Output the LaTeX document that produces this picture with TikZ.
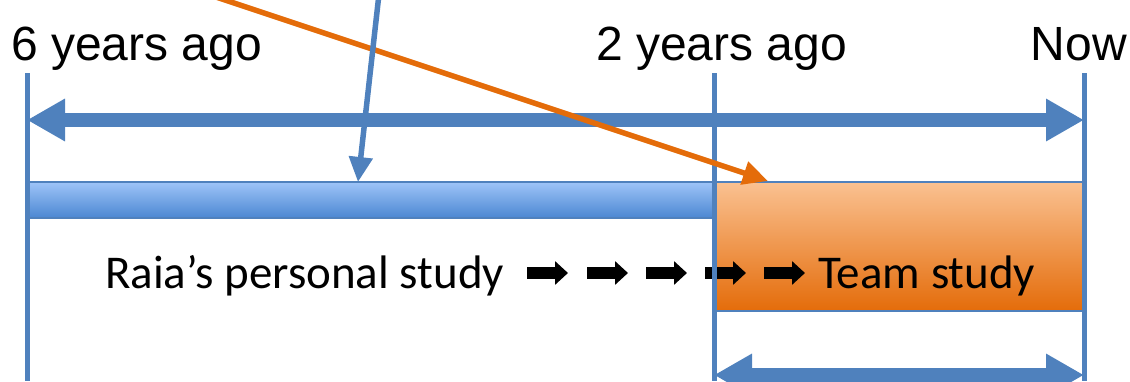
\documentclass[tikz,border=0pt]{standalone}
\usepackage{fontspec}
\setmainfont{Liberation Sans}
\newfontfamily\calibri{Carlito}
\usetikzlibrary{arrows.meta}

\definecolor{lineblue}{RGB}{79,129,189}
\definecolor{bartop}{RGB}{158,196,248}
\definecolor{barbottom}{RGB}{75,135,210}
\definecolor{teamtop}{RGB}{250,193,145}
\definecolor{teambottom}{RGB}{228,108,10}
\definecolor{pointorange}{RGB}{228,108,10}

\tikzset{
  yearline/.style={draw=lineblue, line width=5pt},
  timespan/.style={draw=lineblue, line width=14pt,
    {Triangle[length=38pt,width=40pt]}-{Triangle[length=38pt,width=40pt]}},
  bar/.style={draw=lineblue, line width=2pt},
  pointer/.style={line width=5.5pt, -{Triangle[length=25pt,width=23pt]}},
  nextarrow/.style={draw=black, line width=12pt, -{Triangle[length=13pt,width=23pt]}},
  yearlabel/.style={font=\fontsize{48}{48}\selectfont, inner sep=0pt, anchor=base west},
  studylabel/.style={font=\calibri\fontsize{47}{47}\selectfont, inner sep=0pt, anchor=base west},
}

\begin{document}
\begin{tikzpicture}[x=1pt,y=-1pt]
  \clip (0,0) rectangle (1130,381);

  \coordinate (six top) at (27,73);
  \coordinate (six bottom) at (27,381);
  \coordinate (two top) at (714,73);
  \coordinate (two bottom) at (714,381);
  \coordinate (now top) at (1084,73);
  \coordinate (now bottom) at (1084,381);

  \node[yearlabel] (sixlabel) at (11,60) {6 years ago};
  \node[yearlabel] (twolabel) at (596,60) {2 years ago};
  \node[yearlabel, anchor=base east] (nowlabel) at (1127,60) {Now};

  % study periods
  \shade[bar, top color=bartop, bottom color=barbottom] (27,182) rectangle (714,218);
  \shade[bar, top color=teamtop, bottom color=teambottom] (714,182) rectangle (1084,311);

  \node[studylabel] (personal) at (105,288) {Raia’s personal study};
  \node[studylabel] (team) at (818,288) {Team study};

  \foreach \x in {527,587,646,705,764}
    \draw[nextarrow] (\x,273) -- ++(41,0);

  \draw[yearline] (six top) -- (six bottom);
  \draw[yearline] (two top) -- (two bottom);
  \draw[yearline] (now top) -- (now bottom);

  \coordinate (span left) at (27,120);
  \coordinate (span right) at (1084,120);
  \coordinate (team left) at (714,375);
  \coordinate (team right) at (1084,375);
  \draw[timespan] (span left) -- (span right);
  \draw[timespan] (team left) -- (team right);

  % pointers from above
  \coordinate (orange start) at (150,-25);
  \coordinate (orange tip) at (768,181);
  \coordinate (blue start) at (380,-15);
  \coordinate (blue tip) at (358,182);
  \draw[pointer, draw=pointorange, fill=pointorange] (orange start) -- (orange tip);
  \draw[pointer, draw=lineblue, fill=lineblue] (blue start) -- (blue tip);
\end{tikzpicture}
\end{document}
